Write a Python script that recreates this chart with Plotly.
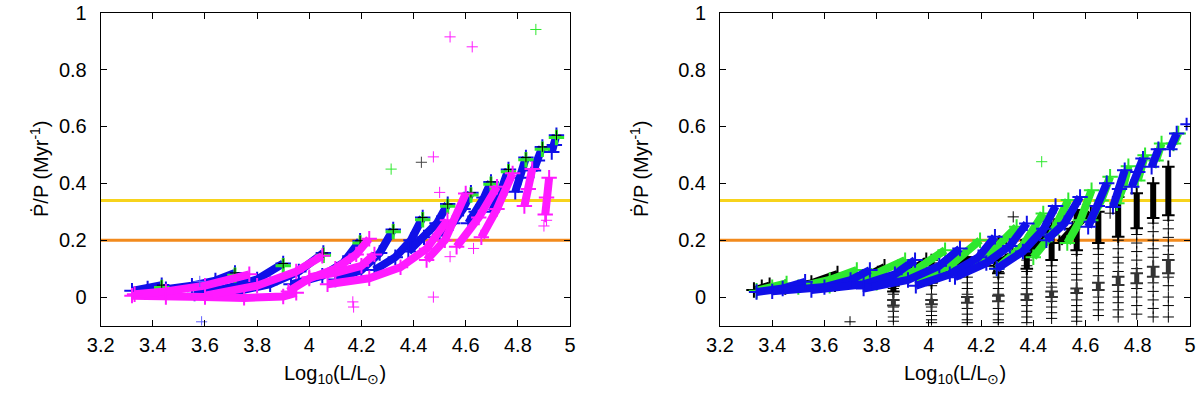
import plotly.graph_objects as go

# ---------------- left panel ----------------
left_blue_x = [
    [3.32, 3.38, 3.434],
    [3.45, 3.55, 3.64, 3.715],
    [3.56, 3.68, 3.80, 3.90],
    [3.72, 3.85, 3.96, 4.054],
    [3.93, 4.05, 4.13, 4.195],
    [4.10, 4.20, 4.27, 4.322],
    [4.25, 4.33, 4.39, 4.435],
    [4.38, 4.44, 4.49, 4.531],
    [4.50, 4.55, 4.59, 4.62],
    [4.61, 4.64, 4.67, 4.697],
    [4.70, 4.73, 4.764],
    [4.79, 4.81, 4.831],
    [4.86, 4.875, 4.894],
    [4.93, 4.94, 4.948],
]
left_blue_y = [
    [0.022, 0.030, 0.042],
    [0.028, 0.040, 0.058, 0.085],
    [0.012, 0.030, 0.062, 0.118],
    [0.020, 0.045, 0.090, 0.155],
    [0.045, 0.075, 0.120, 0.198],
    [0.062, 0.095, 0.155, 0.238],
    [0.095, 0.140, 0.200, 0.280],
    [0.160, 0.210, 0.260, 0.327],
    [0.220, 0.260, 0.310, 0.367],
    [0.260, 0.300, 0.350, 0.405],
    [0.300, 0.360, 0.449],
    [0.370, 0.420, 0.491],
    [0.445, 0.480, 0.528],
    [0.510, 0.535, 0.569],
]

left_magenta_x = [
    [3.32, 3.45, 3.60, 3.75, 3.90, 3.95],
    [3.33, 3.45, 3.60, 3.77],
    [3.60, 3.80, 3.95, 4.05],
    [3.92, 4.00, 4.10, 4.18, 4.23],
    [4.00, 4.10, 4.20, 4.25],
    [4.07, 4.23, 4.35, 4.45, 4.53],
    [4.45, 4.52, 4.60],
    [4.565, 4.65, 4.72],
    [4.66, 4.72, 4.78],
    [4.825, 4.84, 4.855],
    [4.905, 4.91, 4.92],
]
left_magenta_y = [
    [0.005, 0.000, 0.000, -0.003, 0.002, 0.015],
    [0.010, 0.020, 0.040, 0.080],
    [0.005, 0.040, 0.090, 0.145],
    [0.020, 0.065, 0.100, 0.150, 0.205],
    [0.070, 0.085, 0.110, 0.150],
    [0.045, 0.066, 0.105, 0.170, 0.270],
    [0.130, 0.200, 0.364],
    [0.177, 0.280, 0.388],
    [0.210, 0.310, 0.435],
    [0.320, 0.380, 0.450],
    [0.290, 0.350, 0.420],
]

left_magenta_pts_x = [4.54, 4.625, 4.476, 4.50, 4.476, 4.167, 4.17, 4.54, 4.63, 4.91, 4.90]
left_magenta_pts_y = [0.915, 0.88, 0.493, 0.368, 0.0, -0.017, -0.035, 0.142, 0.171, 0.27, 0.25]
left_green_pts_x = [4.869, 4.314]
left_green_pts_y = [0.941, 0.45]
left_black_pts_x = [4.43]
left_black_pts_y = [0.474]
left_blue_pts_x = [3.587, 3.58]
left_blue_pts_y = [-0.087, 0.055]

# ---------------- right panel ----------------
right_black_x = [
    [3.33, 3.36, 3.39],
    [3.45, 3.55, 3.65],
    [3.64, 3.74, 3.83],
    [3.82, 3.92, 3.99],
    [3.98, 4.06, 4.14],
    [4.12, 4.20, 4.27],
    [4.25, 4.32, 4.38],
    [4.38, 4.44, 4.48],
    [4.50, 4.55, 4.62],
]
right_black_y = [
    [0.025, 0.035, 0.042],
    [0.035, 0.050, 0.083],
    [0.045, 0.065, 0.107],
    [0.060, 0.085, 0.130],
    [0.070, 0.095, 0.140],
    [0.090, 0.130, 0.190],
    [0.110, 0.150, 0.200],
    [0.150, 0.200, 0.250],
    [0.190, 0.240, 0.295],
]

right_green_x = [
    [3.34, 3.40, 3.455],
    [3.50, 3.62, 3.724],
    [3.62, 3.78, 3.909],
    [3.80, 3.94, 4.062],
    [3.95, 4.08, 4.196],
    [4.10, 4.22, 4.336],
    [4.26, 4.36, 4.438],
    [4.40, 4.47, 4.534],
    [4.53, 4.58, 4.623],
    [4.62, 4.66, 4.694],
    [4.72, 4.745, 4.764],
    [4.80, 4.828],
    [4.87, 4.891],
    [4.937, 4.955],
]
right_green_y = [
    [0.022, 0.035, 0.048],
    [0.035, 0.060, 0.095],
    [0.040, 0.075, 0.130],
    [0.050, 0.090, 0.165],
    [0.060, 0.110, 0.200],
    [0.080, 0.140, 0.247],
    [0.100, 0.180, 0.294],
    [0.140, 0.220, 0.341],
    [0.190, 0.270, 0.376],
    [0.270, 0.340, 0.423],
    [0.330, 0.390, 0.460],
    [0.410, 0.499],
    [0.480, 0.540],
    [0.540, 0.575],
]

right_blue_x = [
    [3.34, 3.44, 3.526],
    [3.40, 3.60, 3.70, 3.774],
    [3.55, 3.75, 3.87, 3.947],
    [3.75, 3.92, 4.04, 4.119],
    [3.95, 4.08, 4.19, 4.253],
    [4.10, 4.22, 4.31, 4.375],
    [4.26, 4.36, 4.44, 4.485],
    [4.45, 4.52, 4.579],
    [4.61, 4.645, 4.681],
    [4.705, 4.73, 4.75],
    [4.777, 4.80, 4.82],
    [4.853, 4.879],
    [4.923, 4.949],
]
right_blue_y = [
    [0.018, 0.030, 0.054],
    [0.020, 0.035, 0.060, 0.095],
    [0.025, 0.045, 0.080, 0.130],
    [0.030, 0.060, 0.110, 0.171],
    [0.040, 0.080, 0.140, 0.212],
    [0.070, 0.120, 0.180, 0.259],
    [0.100, 0.160, 0.240, 0.320],
    [0.200, 0.260, 0.352],
    [0.247, 0.320, 0.400],
    [0.317, 0.380, 0.446],
    [0.388, 0.440, 0.487],
    [0.458, 0.520],
    [0.520, 0.575],
]

col_x = [3.864, 4.01, 4.147, 4.266, 4.375, 4.47, 4.566, 4.649, 4.725, 4.796, 4.859, 4.917]
col_sparse_y = [
    [0.03, 0.01, -0.01, -0.035, -0.05, -0.07, -0.085],
    [0.12, 0.10, 0.08, 0.06, 0.04, 0.01, -0.035, -0.05, -0.065, -0.08, -0.09],
    [0.09, 0.07, 0.05, 0.03, 0.01, -0.04, -0.06, -0.08, -0.09],
    [0.11, 0.09, 0.07, 0.05, 0.03, 0.01, -0.04, -0.06, -0.08, -0.09],
    [0.13, 0.11, 0.09, 0.07, 0.05, 0.03, -0.03, -0.05, -0.07, -0.09],
    [0.11, 0.09, 0.07, 0.05, 0.035, -0.015, -0.035, -0.055, -0.075],
    [0.15, 0.12, 0.10, 0.08, 0.06, -0.01, -0.03, -0.05, -0.07, -0.085],
    [0.17, 0.15, 0.12, 0.10, 0.075, 0.0, -0.02, -0.045, -0.065],
    [0.20, 0.17, 0.14, 0.12, 0.09, 0.02, 0.0, -0.02, -0.045, -0.07],
    [0.22, 0.19, 0.16, 0.13, 0.10, 0.03, 0.0, -0.03, -0.06],
    [0.26, 0.23, 0.20, 0.17, 0.14, 0.05, 0.02, -0.01, -0.04, -0.07],
    [0.27, 0.24, 0.21, 0.18, 0.15, 0.07, 0.04, 0.0, -0.03, -0.07],
]
col_dense_lo = [0.02, 0.05, 0.09, 0.084, 0.10, 0.13, 0.165, 0.19, 0.212, 0.242, 0.278, 0.288]
col_dense_hi = [0.04, 0.13, 0.14, 0.19, 0.20, 0.247, 0.306, 0.30, 0.352, 0.365, 0.40, 0.458]
col_cluster_lo = [-0.03, -0.025, -0.02, -0.015, -0.01, 0.0, 0.014, 0.025, 0.042, 0.049, 0.071, 0.084]
col_cluster_hi = [-0.01, -0.01, 0.0, 0.005, 0.01, 0.02, 0.03, 0.05, 0.071, 0.084, 0.107, 0.13]

right_black_pts_x = [4.323, 3.698, 4.694]
right_black_pts_y = [0.282, -0.087, 0.295]
right_green_pts_x = [4.432]
right_green_pts_y = [0.476]
right_blue_pts_x = [4.987, 4.617]
right_blue_pts_y = [0.608, 0.265]

yellow_level = 0.34
orange_level = 0.20

BLUE = "#1010e8"
GREEN = "#2ee82e"
MAGENTA = "#ff1aff"
BLACK = "#000000"
YELLOW = "#f7d31c"
ORANGE = "#f28a1d"

W, H = 1200, 394


def joined(tracks):
    out = []
    for t in tracks:
        out += list(t) + [None]
    return out


fig = go.Figure()


def bands(xs, ys, color, width, xa, ya, msize=11):
    fig.add_trace(go.Scatter(
        x=joined(xs), y=joined(ys), mode="lines+markers", xaxis=xa, yaxis=ya,
        line=dict(color=color, width=width),
        marker=dict(symbol="cross-thin-open", size=msize, color=color,
                    line=dict(color=color, width=2)),
        showlegend=False, hoverinfo="skip"))


def crosses(xs, ys, color, xa, ya, size=8, lw=1):
    fig.add_trace(go.Scatter(
        x=xs, y=ys, mode="markers", xaxis=xa, yaxis=ya,
        marker=dict(symbol="cross-thin-open", size=size, color=color,
                    line=dict(color=color, width=lw)),
        showlegend=False, hoverinfo="skip"))


# left panel
for lvl, c in [(yellow_level, YELLOW), (orange_level, ORANGE)]:
    fig.add_trace(go.Scatter(x=[3.2, 5.0], y=[lvl, lvl], mode="lines", xaxis="x", yaxis="y",
                             line=dict(color=c, width=3), showlegend=False, hoverinfo="skip"))
bands(left_blue_x, left_blue_y, BLUE, 8, "x", "y")
crosses([t[-1] for t in left_blue_x], [t[-1] - 0.008 for t in left_blue_y], GREEN, "x", "y", 11, 3)
crosses([t[-1] for t in left_blue_x], [t[-1] for t in left_blue_y], BLACK, "x", "y", 7, 1)
bands(left_magenta_x, left_magenta_y, MAGENTA, 8, "x", "y")
crosses(left_magenta_pts_x, left_magenta_pts_y, MAGENTA, "x", "y")
crosses(left_green_pts_x, left_green_pts_y, GREEN, "x", "y")
crosses(left_black_pts_x, left_black_pts_y, "#444444", "x", "y")
crosses(left_blue_pts_x, left_blue_pts_y, "#6060ff", "x", "y")

# right panel
for lvl, c in [(yellow_level, YELLOW), (orange_level, ORANGE)]:
    fig.add_trace(go.Scatter(x=[3.2, 5.0], y=[lvl, lvl], mode="lines", xaxis="x2", yaxis="y2",
                             line=dict(color=c, width=3), showlegend=False, hoverinfo="skip"))
bands(right_black_x, right_black_y, BLACK, 7, "x2", "y2")
col_px, col_py = [], []
for cx, ys in zip(col_x, col_sparse_y):
    col_px += [cx] * len(ys)
    col_py += ys
crosses(col_px, col_py, BLACK, "x2", "y2", 8, 1)
bands([[cx, cx] for cx in col_x], [[lo, hi] for lo, hi in zip(col_dense_lo, col_dense_hi)],
      BLACK, 6, "x2", "y2", 9)
bands([[cx, cx] for cx in col_x], [[lo, hi] for lo, hi in zip(col_cluster_lo, col_cluster_hi)],
      "#333333", 5, "x2", "y2", 9)
bands(right_green_x, right_green_y, GREEN, 8, "x2", "y2")
bands(right_blue_x, right_blue_y, BLUE, 8, "x2", "y2")
crosses(right_black_pts_x, right_black_pts_y, BLACK, "x2", "y2")
crosses(right_green_pts_x, right_green_pts_y, GREEN, "x2", "y2")
crosses(right_blue_pts_x, right_blue_pts_y, BLUE, "x2", "y2", 9, 2)

font = dict(family="Liberation Sans", size=20, color="black")
xticks = [3.2, 3.4, 3.6, 3.8, 4.0, 4.2, 4.4, 4.6, 4.8, 5.0]
xtext = ["3.2", "3.4", "3.6", "3.8", "4", "4.2", "4.4", "4.6", "4.8", "5"]
yticks = [0, 0.2, 0.4, 0.6, 0.8, 1.0]
ytext = ["0", "0.2", "0.4", "0.6", "0.8", "1"]

axis_common = dict(showline=True, linecolor="black", linewidth=1, mirror="ticks", ticks="inside",
                   ticklen=6, tickcolor="black", showgrid=False, zeroline=False, tickfont=font,
                   automargin=False, ticklabeloverflow="allow")


def xdom(a, b):
    return [a / W, b / W]


dom_y = [1 - 325.5 / H, 1 - 12.7 / H]
fig.update_layout(
    width=W, height=H, margin=dict(l=0, r=0, t=0, b=0),
    plot_bgcolor="white", paper_bgcolor="white", font=font,
    xaxis=dict(domain=xdom(100.7, 570), range=[3.2, 5.0], tickvals=xticks, ticktext=xtext,
               anchor="y", ticklabelstandoff=1, **axis_common),
    yaxis=dict(domain=dom_y, range=[-0.1, 1.0], tickvals=yticks, ticktext=ytext,
               anchor="x", ticklabelstandoff=9, **axis_common),
    xaxis2=dict(domain=xdom(720, 1190), range=[3.2, 5.0], tickvals=xticks, ticktext=xtext,
                anchor="y2", ticklabelstandoff=1, **axis_common),
    yaxis2=dict(domain=dom_y, range=[-0.1, 1.0], tickvals=yticks, ticktext=ytext,
                anchor="x2", ticklabelstandoff=9, **axis_common),
)

xtitle = "Log<sub>10</sub>(L/L<sub>⊙</sub>)"
ytitle = "Ṗ/P (Myr<sup>-1</sup>)"
for cx, cy in [(335, 39), (955, 639)]:
    fig.add_annotation(text=xtitle, x=cx / W, y=1 - 374 / H, xref="paper",
                       yref="paper", showarrow=False, font=font, xanchor="center", yanchor="middle")
    fig.add_annotation(text=ytitle, x=cy / W, y=1 - 169 / H, xref="paper",
                       yref="paper", showarrow=False, font=font, textangle=-90,
                       xanchor="center", yanchor="middle")

# drop the default 8px body margin so the 1200x394 figure fills the window exactly
fig.write_html("out.html", config={"displayModeBar": False},
               post_script="document.body.style.margin='0';")
